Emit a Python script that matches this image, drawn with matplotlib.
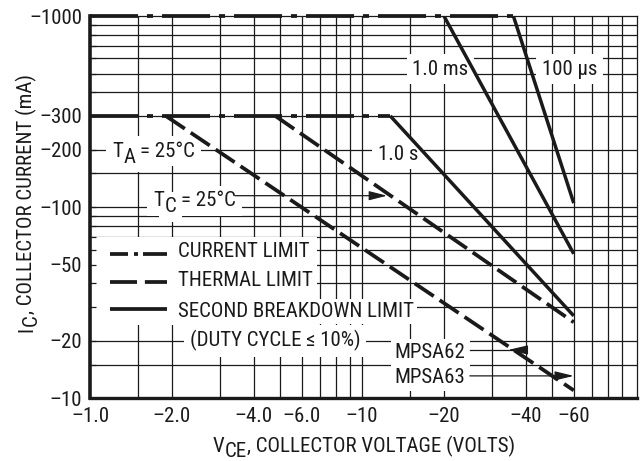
import matplotlib
matplotlib.use('Agg')
import matplotlib.pyplot as plt
import matplotlib.transforms as mtransforms
from matplotlib.font_manager import FontProperties
from matplotlib.ticker import FixedLocator, FixedFormatter, NullFormatter, NullLocator
from matplotlib.patches import Rectangle

FONT = ['Roboto Condensed', 'Liberation Sans', 'DejaVu Sans']
plt.rcParams['font.family'] = FONT
plt.rcParams['font.size'] = 15
INK = '#1a1a1a'
FS = 15

# ---------------- data ----------------
x_ticks = [1, 2, 4, 6, 10, 20, 40, 60]
x_tick_labels = ['–1.0', '–2.0', '–4.0', '–6.0', '–10', '–20', '–40', '–60']
y_ticks = [10, 20, 50, 100, 200, 300, 1000]
y_tick_labels = ['–10', '–20', '–50', '–100', '–200', '–300', '–1000']
x_grid = [1.5, 2, 3, 4, 5, 6, 7, 8, 9, 10, 15, 20, 30, 40, 50, 60, 70, 80, 90]
y_grid = [15, 20, 30, 40, 50, 60, 70, 80, 90, 100, 150, 200, 300, 400, 500, 600, 700, 800, 900]

# current limit (dash-dot)
cur_hi_v = [1.0, 36]
cur_hi_i = [1000, 1000]
cur_lo_v = [1.0, 12.7]
cur_lo_i = [300, 300]
# thermal limit (dashed)
ta_v = [1.9, 60]
ta_i = [300, 11]
tc_v = [4.8, 60]
tc_i = [300, 25]
# second breakdown limit (solid)
sb_1s_v = [12.7, 60]
sb_1s_i = [300, 27]
sb_1ms_v = [20, 60]
sb_1ms_i = [1000, 57]
sb_100us_v = [36, 60]
sb_100us_i = [1000, 105]

# ---------------- figure ----------------
W, H = 644, 461
fig = plt.figure(figsize=(W / 100, H / 100), dpi=100)
L, R, T, B = 90, 637, 16, 398.3
ax = fig.add_axes([L / W, 1 - B / H, (R - L) / W, (B - T) / H])
ax.set_xscale('log')
ax.set_yscale('log')
ax.set_xlim(1, 102.5)
ax.set_ylim(10, 1000)
ax.set_axisbelow(False)

for v in x_grid:
    ax.axvline(v, color=INK, lw=0.9, zorder=1)
for v in y_grid:
    ax.axhline(v, color=INK, lw=0.9, zorder=1)

# white area behind legend
ax.add_patch(Rectangle((0, 0.1917), 0.415, 0.4219 - 0.1917, transform=ax.transAxes,
                       facecolor='white', edgecolor='none', zorder=2))

LW = 2.7
cur_ls = (0, (12.8, 2.4, 1.6, 2.4))
th_ls = (0, (6.1, 1.9))
ax.plot(cur_hi_v, cur_hi_i, color=INK, lw=LW, ls=cur_ls, zorder=4, clip_on=False)
ax.plot(cur_lo_v, cur_lo_i, color=INK, lw=LW, ls=cur_ls, zorder=4)
ax.plot(ta_v, ta_i, color=INK, lw=LW, ls=th_ls, zorder=4)
ax.plot(tc_v, tc_i, color=INK, lw=LW, ls=th_ls, zorder=4)
for vv, ii in [(sb_1s_v, sb_1s_i), (sb_1ms_v, sb_1ms_i), (sb_100us_v, sb_100us_i)]:
    ax.plot(vv, ii, color=INK, lw=2.5, ls='-', zorder=4, solid_capstyle='butt')

# spines
ax.spines['left'].set_linewidth(2.6)
ax.spines['bottom'].set_linewidth(2.4)
ax.spines['top'].set_linewidth(0.9)
ax.spines['right'].set_linewidth(0.9)
for s in ax.spines.values():
    s.set_color(INK)

# ticks
ax.xaxis.set_major_locator(FixedLocator(x_ticks))
ax.xaxis.set_major_formatter(FixedFormatter(x_tick_labels))
ax.xaxis.set_minor_locator(NullLocator())
ax.yaxis.set_major_locator(FixedLocator(y_ticks))
ax.yaxis.set_major_formatter(FixedFormatter(y_tick_labels))
ax.yaxis.set_minor_locator(FixedLocator([v for v in y_grid if v not in y_ticks]))
ax.yaxis.set_minor_formatter(NullFormatter())
ax.tick_params(axis='x', which='both', length=0, pad=6.5, labelsize=FS, colors=INK)
ax.tick_params(axis='y', which='both', direction='in', length=4, width=0.9,
               pad=5.5, labelsize=FS, colors=INK)

renderer = fig.canvas.get_renderer()
FP = FontProperties(family=FONT, size=FS)


def tw(s):
    w, h, d = renderer.get_text_width_height_descent(s, FP, ismath=False)
    return w


def rich(host, x, y, pieces, transform, ha='left', rotation=0, box=False, pad=3):
    """pieces: (text, baseline shift px, gap before px)"""
    widths = [tw(s) for s, _, _ in pieces]
    total = sum(widths) + sum(g for _, _, g in pieces)
    pos = {'left': 0, 'center': -total / 2, 'right': -total}[ha]
    for (s, dy, gap), w in zip(pieces, widths):
        pos += gap
        if rotation == 90:
            ox, oy = -dy, pos
        else:
            ox, oy = pos, dy
        tr = mtransforms.offset_copy(transform, fig=fig, x=ox, y=oy, units='dots')
        kw = dict(transform=tr, ha='left', va='baseline', rotation=rotation,
                  rotation_mode='anchor', fontsize=FS)
        if box:
            host.text(x, y, s, color='none', zorder=2.2,
                      bbox=dict(facecolor='white', edgecolor='none', pad=pad), **kw)
        host.text(x, y, s, color=INK, zorder=3, **kw)
        pos += w


# curve labels (data coordinates)
rich(ax, 15.3, 494, [('1.0 ms', 0, 0)], ax.transData, box=True, pad=4)
rich(ax, 45.9, 494, [('100 µs', 0, 0)], ax.transData, box=True, pad=4)
rich(ax, 11.45, 177, [('1.0 s', 0, 0)], ax.transData, box=True, pad=4)
rich(ax, 1.205, 184, [('T', 0, 0), ('A', -6, 0.5), ('= 25°C', 0, 5)], ax.transData, box=True, pad=4)
rich(ax, 1.704, 100.9, [('T', 0, 0), ('C', -6, 0.5), ('= 25°C', 0, 5)], ax.transData, box=True, pad=4)
rich(ax, 2.33, 18.6, [('(DUTY CYCLE ≤ 10%)', 0, 0)], ax.transData, box=True, pad=4)
rich(ax, 13.2, 16.3, [('MPSA62', 0, 0)], ax.transData, box=True, pad=3)
rich(ax, 13.2, 12.0, [('MPSA63', 0, 0)], ax.transData, box=True, pad=3)

# leaders
thin = dict(color=INK, lw=0.9, shrinkA=0, shrinkB=0, mutation_scale=10)
ax.annotate('', xy=(12.36, 114.8), xytext=(3.41, 114.8),
            arrowprops=dict(arrowstyle='-|>,head_length=1.1,head_width=0.28', **thin), zorder=3.5)
ax.plot([24.9, 39.7], [17.9, 17.9], color=INK, lw=0.9, zorder=3.5)
ax.annotate('', xy=(34.4, 17.9), xytext=(39.7, 17.9),
            arrowprops=dict(arrowstyle='-|>,head_length=1.2,head_width=0.28', **thin), zorder=3.5)
ax.annotate('', xy=(60, 13.1), xytext=(24.9, 13.1),
            arrowprops=dict(arrowstyle='-|>,head_length=1.15,head_width=0.28', **thin), zorder=3.5)

# legend (axes fraction)
ax.plot([0.0366, 0.1408], [0.3776, 0.3776], transform=ax.transAxes, color=INK, lw=LW,
        ls=(0, (4.8, 1.6, 1.07, 1.33, 8)), zorder=4)
ax.plot([0.0366, 0.1408], [0.3044, 0.3044], transform=ax.transAxes, color=INK, lw=LW,
        ls=(0, (7.2, 2.1, 8)), zorder=4)
ax.plot([0.0366, 0.1408], [0.2336, 0.2336], transform=ax.transAxes, color=INK, lw=LW,
        ls='-', zorder=4, solid_capstyle='butt')
rich(ax, 0.1609, 0.3693, [('CURRENT LIMIT', 0, 0)], ax.transAxes, box=True, pad=2)
rich(ax, 0.1609, 0.2942, [('THERMAL LIMIT', 0, 0)], ax.transAxes, box=True, pad=2)
rich(ax, 0.1609, 0.2127, [('SECOND BREAKDOWN LIMIT', 0, 0)], ax.transAxes, box=True, pad=2)

# axis titles
rich(fig, 363.5 / W, 1 - 452 / H, [('V', 0, 0), ('CE', -5, 0.5), (', COLLECTOR VOLTAGE (VOLTS)', 0, 0)],
     fig.transFigure, ha='center')
rich(fig, 32 / W, 1 - 203 / H, [('I', 0, 0), ('C', -5, 0.5), (', COLLECTOR CURRENT (mA)', 0, 0)],
     fig.transFigure, ha='center', rotation=90)

fig.savefig('out.png', dpi=100)
